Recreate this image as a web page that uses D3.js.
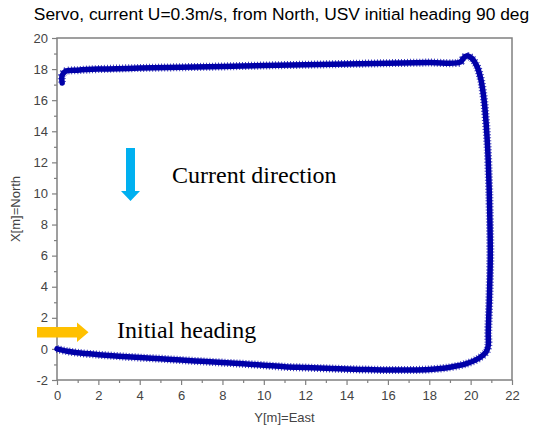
<!DOCTYPE html>
<html>
<head>
<meta charset="utf-8">
<script src="https://cdn.jsdelivr.net/npm/d3@7"></script>
<style>
  html, body { margin: 0; padding: 0; background: #fff; }
  svg { display: block; }
</style>
</head>
<body>
<svg id="chart" width="541" height="432"></svg>
<script>
// USV trajectory, east (Y) and north (X) positions in metres
const eastM = [0, 0.5, 1, 2, 3, 4, 5, 6, 7, 8, 9, 10, 11, 12, 13, 14, 15, 16, 17, 18, 19, 19.8, 20.4, 20.75,
  20.85, 20.85, 20.9, 20.95, 20.92, 20.88, 20.82, 20.75, 20.65, 20.5, 20.3, 20.05, 19.8, 19.65, 19.5,
  18, 16, 14, 12, 10, 8, 6, 4, 2, 1, 0.4, 0.25, 0.25];
const northM = [0, -0.15, -0.25, -0.37, -0.47, -0.56, -0.63, -0.72, -0.8, -0.88, -0.96, -1.05, -1.15, -1.2, -1.25, -1.3, -1.33, -1.36, -1.36, -1.32, -1.18, -0.95, -0.6, -0.2,
  0.2, 1, 3, 6, 9, 11, 13, 14.5, 16, 17.3, 18.2, 18.7, 18.85, 18.7, 18.45,
  18.42, 18.38, 18.33, 18.28, 18.23, 18.17, 18.12, 18.07, 18.0, 17.93, 17.85, 17.6, 17.1];

const xMajorTicks = [0, 2, 4, 6, 8, 10, 12, 14, 16, 18, 20, 22];
const xMinorTicks = [1, 3, 5, 7, 9, 11, 13, 15, 17, 19, 21];
const yMajorTicks = [-2, 0, 2, 4, 6, 8, 10, 12, 14, 16, 18, 20];
const yMinorTicks = [-1, 1, 3, 5, 7, 9, 11, 13, 15, 17, 19];

const titleText = "Servo, current U=0.3m/s, from North, USV initial heading 90 deg";
const xLabel = "Y[m]=East";
const yLabel = "X[m]=North";
const currentNote = "Current direction";
const headingNote = "Initial heading";

const svg = d3.select("#chart");
const plotLeft = 57, plotRight = 512, plotTop = 38, plotBottom = 380;

const x = d3.scaleLinear().domain([0, 22]).range([plotLeft, plotRight]);
const y = d3.scaleLinear().domain([-2, 20]).range([plotBottom, plotTop]);

const axisColor = "#808080";
const labelColor = "#444";
const sans = "'Liberation Sans', Arial, sans-serif";
const serif = "'Liberation Serif', 'Times New Roman', serif";
const plainNum = d => String(d);

// title
svg.append("text")
  .attr("x", 281.5).attr("y", 20)
  .attr("text-anchor", "middle")
  .attr("font-family", sans).attr("font-size", 17.4)
  .attr("fill", "#000")
  .text(titleText);

// frame
svg.append("rect")
  .attr("x", plotLeft).attr("y", plotTop)
  .attr("width", plotRight - plotLeft).attr("height", plotBottom - plotTop)
  .attr("fill", "none").attr("stroke", axisColor).attr("stroke-width", 1.5);

function styleAxis(g) {
  g.select(".domain").remove();
  g.selectAll(".tick line").attr("stroke", axisColor).attr("stroke-width", 1.2);
  g.selectAll(".tick text").attr("fill", labelColor)
    .attr("font-family", sans).attr("font-size", 13);
}

// x axis
svg.append("g").attr("transform", `translate(0,${plotBottom})`)
  .call(d3.axisBottom(x).tickValues(xMajorTicks).tickSize(5).tickPadding(6).tickFormat(plainNum))
  .call(styleAxis);
svg.append("g").attr("transform", `translate(0,${plotBottom})`)
  .call(d3.axisBottom(x).tickValues(xMinorTicks).tickSize(3).tickFormat(""))
  .call(styleAxis);

// y axis
svg.append("g").attr("transform", `translate(${plotLeft},0)`)
  .call(d3.axisLeft(y).tickValues(yMajorTicks).tickSize(5).tickPadding(4).tickFormat(plainNum))
  .call(styleAxis);
svg.append("g").attr("transform", `translate(${plotLeft},0)`)
  .call(d3.axisLeft(y).tickValues(yMinorTicks).tickSize(3).tickFormat(""))
  .call(styleAxis);

// axis titles
svg.append("text")
  .attr("x", (plotLeft + plotRight) / 2).attr("y", 422)
  .attr("text-anchor", "middle")
  .attr("font-family", sans).attr("font-size", 13).attr("fill", labelColor)
  .text(xLabel);
svg.append("text")
  .attr("transform", `translate(20,${(plotTop + plotBottom) / 2}) rotate(-90)`)
  .attr("text-anchor", "middle")
  .attr("font-family", sans).attr("font-size", 13).attr("fill", labelColor)
  .text(yLabel);

// trajectory
const pts = eastM.map((e, i) => [e, northM[i]]);
const line = d3.line().x(d => x(d[0])).y(d => y(d[1])).curve(d3.curveCatmullRom);
const trackColor = "#0000a8";
svg.append("path").attr("d", line(pts))
  .attr("fill", "none").attr("stroke", trackColor)
  .attr("stroke-width", 5.5).attr("stroke-linejoin", "round").attr("stroke-linecap", "round");
// jagged marker edge
svg.append("path").attr("d", line(pts))
  .attr("fill", "none").attr("stroke", trackColor).attr("stroke-opacity", 0.75)
  .attr("stroke-width", 8).attr("stroke-dasharray", "1,2");

// current direction arrow (pointing south)
const cur = d3.path();
cur.moveTo(126, 148); cur.lineTo(135, 148); cur.lineTo(135, 191); cur.lineTo(140, 191);
cur.lineTo(130.5, 201); cur.lineTo(121, 191); cur.lineTo(126, 191); cur.closePath();
svg.append("path").attr("d", cur.toString()).attr("fill", "#00b0f0");
svg.append("text")
  .attr("x", 172).attr("y", 183)
  .attr("font-family", serif).attr("font-size", 24).attr("fill", "#000")
  .text(currentNote);

// initial heading arrow (pointing east)
const head = d3.path();
head.moveTo(37, 327); head.lineTo(77, 327); head.lineTo(77, 322.5); head.lineTo(88.5, 332.2);
head.lineTo(77, 342); head.lineTo(77, 337.5); head.lineTo(37, 337.5); head.closePath();
svg.append("path").attr("d", head.toString()).attr("fill", "#ffc000");
svg.append("text")
  .attr("x", 117).attr("y", 338)
  .attr("font-family", serif).attr("font-size", 24).attr("fill", "#000")
  .text(headingNote);
</script>
</body>
</html>
